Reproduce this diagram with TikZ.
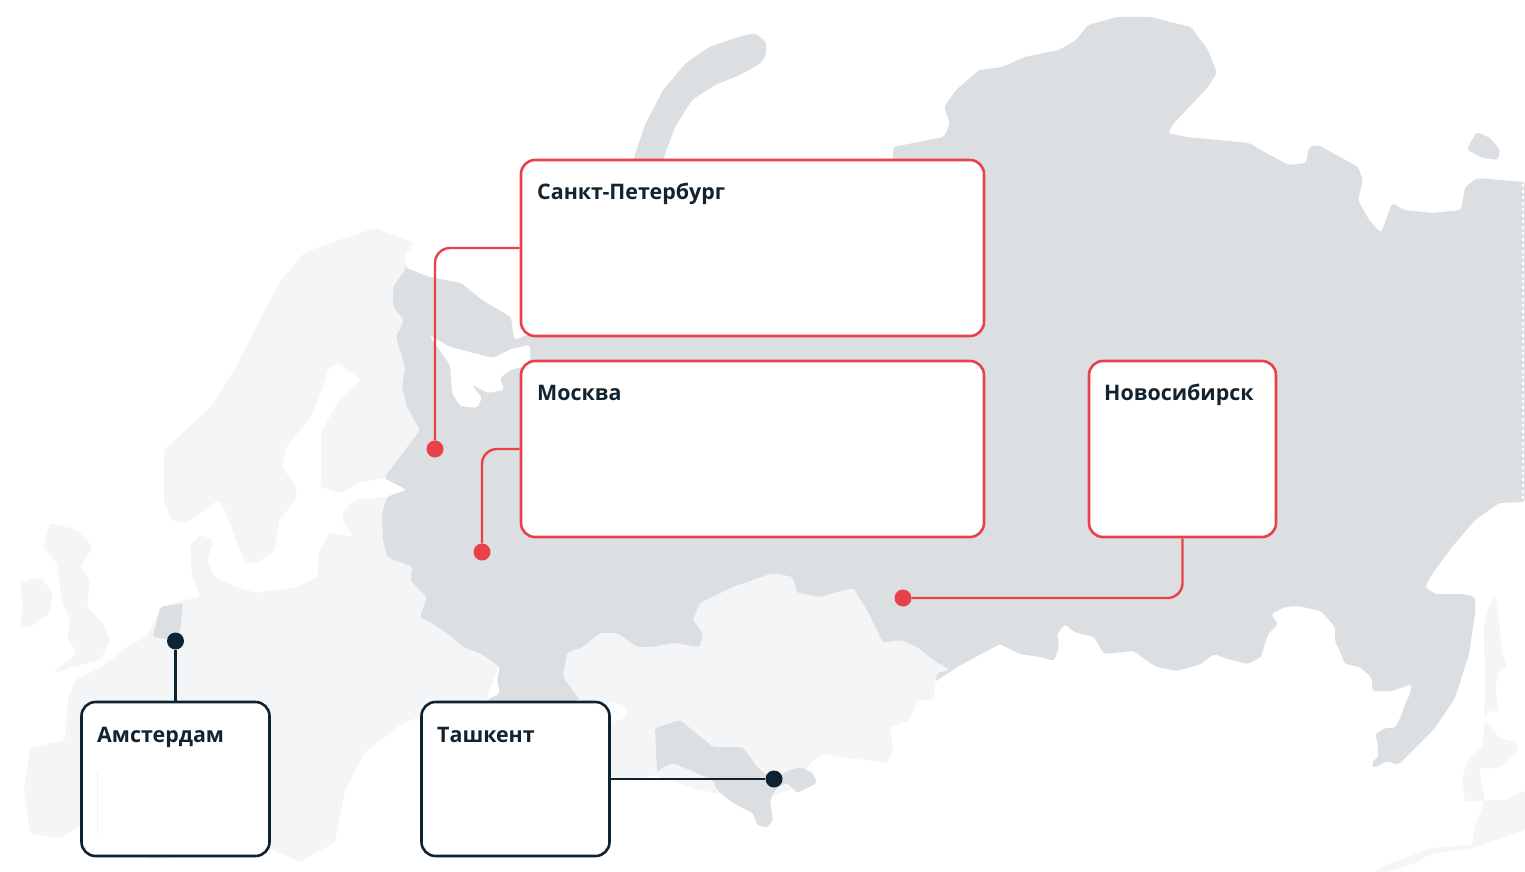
\documentclass[tikz,border=0pt]{standalone}
\usepackage{fontspec}
\setmainfont{Open Sans}
\definecolor{myred}{HTML}{E8414A}
\definecolor{mydark}{HTML}{0E2331}
\definecolor{mytext}{HTML}{12232F}
\definecolor{rugray}{HTML}{DCDFE2}
\definecolor{ltgray}{HTML}{F4F5F6}
\tikzset{
 redbox/.style={draw=myred, line width=2.6pt, fill=white, rounded corners=14pt, inner sep=0pt},
 darkbox/.style={draw=mydark, line width=2.6pt, fill=white, rounded corners=14pt, inner sep=0pt},
 redline/.style={draw=myred, line width=2.4pt, rounded corners=15pt},
 darkline/.style={draw=mydark, line width=2.4pt},
 reddot/.style={circle, fill=myred, minimum size=17pt, inner sep=0pt},
 darkdot/.style={circle, fill=mydark, minimum size=17pt, inner sep=0pt},
 title/.style={anchor=base west, inner sep=0pt, text=mytext, font=\fontsize{21.4}{25}\selectfont\bfseries},
 ru/.style={fill=rugray, rounded corners=3pt},
 lt/.style={fill=ltgray, rounded corners=3pt},
}
\begin{document}
\begin{tikzpicture}[x=1pt,y=-1pt]
\useasboundingbox (0,0) rectangle (1525,872);
\fill[white] (0,0) rectangle (1525,872);
% ---- light countries ----
% Scandinavia + Finland
\fill[lt] (375,228) -- (414,243) -- (404,257) -- (407,267) -- (430,300) -- (430,470) -- (384,478) -- (357,483) -- (343,493) -- (321,487) -- (321,433) -- (339,400) -- (361,380) -- (339,363) -- (329,367) -- (318,400) -- (311,417) -- (286,447) -- (282,467) -- (296,487) -- (296,500) -- (279,520) -- (275,550) -- (257,563) -- (246,563) -- (236,540) -- (225,510) -- (218,500) -- (200,513) -- (186,523) -- (171,520) -- (164,500) -- (164,450) -- (189,427) -- (211,407) -- (236,367) -- (279,283) -- (304,253) -- (339,240) -- cycle;
% continental Europe
\fill[lt] (386,497) -- (354,500) -- (343,512) -- (343,522) -- (354,537) -- (329,533) -- (318,555) -- (318,577) -- (296,587) -- (257,593) -- (236,587) -- (214,577) -- (207,560) -- (214,540) -- (200,535) -- (190,545) -- (192,575) -- (200,597) -- (186,600) -- (168,605) -- (157,617) -- (146,637) -- (130,645) -- (100,668) -- (75,680) -- (68,700) -- (65,740) -- (30,748) -- (24,790) -- (30,833) -- (60,838) -- (81,825) -- (150,860) -- (269,848) -- (300,862) -- (335,842) -- (345,790) -- (365,752) -- (400,725) -- (430,712) -- (480,720) -- (520,600) -- (430,480) -- cycle;
% Great Britain
\fill[lt] (50,523) -- (77,530) -- (93,547) -- (80,567) -- (90,580) -- (87,607) -- (103,623) -- (110,640) -- (100,660) -- (73,667) -- (53,673) -- (77,653) -- (67,637) -- (70,620) -- (63,603) -- (60,587) -- (57,563) -- (43,547) -- cycle;
% Ireland
\fill[lt] (20,583) -- (40,577) -- (53,593) -- (50,613) -- (30,627) -- (20,627) -- (23,607) -- cycle;
% Netherlands
\fill[ru] (160,607) -- (183,603) -- (180,633) -- (173,640) -- (153,637) -- (157,620) -- cycle;
% ---- Russia ----
\fill[ru] (404,267) -- (429,277) -- (461,283) -- (482,300) -- (511,317) -- (514,340) -- (540,330) -- (600,200) -- (893,180) -- (893,147) -- (944,137) -- (950,123) -- (944,107) -- (956,90) -- (979,70) -- (1002,67) -- (1025,57) -- (1059,50) -- (1076,40) -- (1088,25) -- (1117,17) -- (1151,17) -- (1174,23) -- (1191,27) -- (1208,50) -- (1217,73) -- (1208,87) -- (1174,123) -- (1168,133) -- (1186,137) -- (1249,143) -- (1266,153) -- (1289,165) -- (1306,163) -- (1309,147) -- (1318,145) -- (1358,167) -- (1363,180) -- (1358,200) -- (1369,220) -- (1381,233) -- (1392,203) -- (1404,210) -- (1432,213) -- (1461,210) -- (1465,187) -- (1477,178) -- (1525,182) -- (1525,502) -- (1499,503) -- (1475,520) -- (1452,547) -- (1432,574) -- (1425,587) -- (1435,594) -- (1462,594) -- (1475,597) -- (1475,614) -- (1469,654) -- (1455,698) -- (1435,728) -- (1398,765) -- (1388,761) -- (1373,768) -- (1372,761) -- (1378,758) -- (1378,744) -- (1375,734) -- (1385,728) -- (1395,728) -- (1402,714) -- (1405,704) -- (1410,694) -- (1412,684) -- (1392,691) -- (1372,691) -- (1372,678) -- (1360,667) -- (1345,664) -- (1341,654) -- (1335,641) -- (1335,627) -- (1321,611) -- (1298,606) -- (1285,607) -- (1271,614) -- (1278,624) -- (1268,634) -- (1261,657) -- (1248,664) -- (1228,659) -- (1214,654) -- (1201,664) -- (1177,671) -- (1157,667) -- (1147,661) -- (1134,651) -- (1104,654) -- (1094,637) -- (1074,632) -- (1065,624) -- (1057,634) -- (1059,647) -- (1054,661) -- (1040,657) -- (1020,654) -- (1000,644) -- (957,667) -- (930,685) -- (700,690) -- (600,690) -- (570,703) -- (540,706) -- (487,706) -- (487,700) -- (500,693) -- (497,680) -- (500,667) -- (480,653) -- (463,647) -- (447,633) -- (430,622) -- (420,617) -- (427,597) -- (410,580) -- (413,567) -- (387,557) -- (383,540) -- (382,513) -- (387,497) -- (407,490) -- (384,478) -- (420,430) -- (407,407) -- (402,387) -- (405,367) -- (396,337) -- (404,320) -- (393,307) -- (393,287) -- (407,267) -- cycle;
% White Sea
\fill[white, rounded corners=3pt] (429,335) -- (450,347) -- (493,358) -- (511,349) -- (530,345) -- (530,365) -- (510,370) -- (500,378) -- (504,390) -- (488,393) -- (471,384) -- (482,398) -- (477,408) -- (460,406) -- (452,393) -- (450,365) -- cycle;
% Novaya Zemlya
\fill[ru] (755,33) -- (766,42) -- (766,55) -- (761,63) -- (740,75) -- (715,85) -- (692,100) -- (675,127) -- (663,160) -- (663,175) -- (634,175) -- (634,157) -- (645,125) -- (663,90) -- (686,63) -- (709,47) -- (738,37) -- cycle;
% small island
\fill[ru] (1477,132) -- (1490,138) -- (1500,150) -- (1498,160) -- (1483,158) -- (1467,150) -- (1470,143) -- cycle;
\draw[white, line width=1.4pt, dash pattern=on 3pt off 3pt] (1523,184) -- (1523,500);
% Kazakhstan + Turkmenistan
\fill[lt] (563,677) -- (567,653) -- (583,647) -- (600,633) -- (617,633) -- (637,647) -- (653,647) -- (673,643) -- (700,647) -- (703,633) -- (693,620) -- (700,603) -- (733,587) -- (773,573) -- (793,577) -- (797,593) -- (820,597) -- (853,588) -- (867,610) -- (883,643) -- (900,640) -- (917,647) -- (933,660) -- (950,670) -- (937,673) -- (933,700) -- (917,700) -- (910,720) -- (890,727) -- (893,750) -- (887,763) -- (867,760) -- (837,757) -- (825,753) -- (813,760) -- (790,790) -- (760,800) -- (700,790) -- (655,775) -- (620,780) -- (600,770) -- (580,700) -- cycle;
\fill[white] (614,712) ellipse[x radius=13pt, y radius=9pt];
% Uzbekistan, Kyrgyzstan, Tajikistan
\fill[ru] (655,728) -- (680,720) -- (713,747) -- (743,747) -- (757,767) -- (777,783) -- (783,773) -- (800,767) -- (813,773) -- (817,783) -- (803,790) -- (797,793) -- (787,783) -- (777,787) -- (770,800) -- (773,820) -- (767,828) -- (757,825) -- (753,813) -- (733,803) -- (717,790) -- (713,780) -- (673,763) -- (663,767) -- (657,773) -- cycle;
% Sakhalin
\fill[lt] (1495,594) -- (1499,621) -- (1502,654) -- (1507,667) -- (1499,671) -- (1495,688) -- (1499,711) -- (1489,711) -- (1484,718) -- (1485,688) -- (1484,624) -- (1489,607) -- cycle;
% Japan
\fill[lt] (1485,721) -- (1499,738) -- (1512,741) -- (1519,748) -- (1509,758) -- (1499,768) -- (1479,768) -- (1485,801) -- (1475,825) -- (1472,845) -- (1432,848) -- (1422,852) -- (1385,865) -- (1375,872) -- (1388,872) -- (1418,862) -- (1428,855) -- (1472,848) -- (1525,830) -- (1525,790) -- (1505,800) -- (1465,801) -- (1462,778) -- (1469,758) -- (1482,748) -- cycle;
% ---- boxes ----
\node[redbox, minimum width=463pt, minimum height=176pt] (spb) at (752.5,248) {};
\node[redbox, minimum width=463pt, minimum height=176pt] (msk) at (752.5,449) {};
\node[redbox, minimum width=187pt, minimum height=176pt] (nsk) at (1182.5,449) {};
\node[darkbox, minimum width=188pt, minimum height=154pt] (ams) at (175.5,779) {};
\node[darkbox, minimum width=188pt, minimum height=154pt] (tas) at (515.5,779) {};
\draw[ltgray!80!rugray, line width=1pt] (97,772) -- (97,833);
\node[title] (spbT) at (537,199.5) {Санкт-Петербург};
\node[title] (mskT) at (537,400.5) {Москва};
\node[title] (nskT) at (1104,400.5) {Новосибирск};
\node[title] (amsT) at (97,742) {Амстердам};
\node[title] (tasT) at (437,742) {Ташкент};
% ---- dots ----
\node[reddot] (dspb) at (435,449) {};
\node[reddot] (dmsk) at (482,552) {};
\node[reddot] (dnsk) at (903,598) {};
\node[darkdot] (dams) at (175.5,641) {};
\node[darkdot] (dtas) at (774,779) {};
% ---- connectors ----
\draw[redline] (spb.west) -| (dspb);
\draw[redline] (msk.west) -| (dmsk);
\draw[redline] (nsk.south) |- (dnsk);
\draw[darkline] (ams.north) -- (dams);
\draw[darkline] (tas.east) -- (dtas);
\end{tikzpicture}
\end{document}
